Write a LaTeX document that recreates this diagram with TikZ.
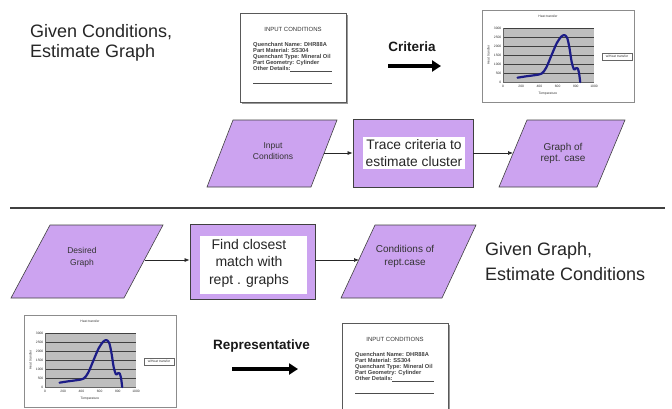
\documentclass[tikz,border=0pt]{standalone}
\usepackage{fontspec}
\setmainfont{Liberation Sans}
\usetikzlibrary{arrows.meta,calc}
\definecolor{lav}{RGB}{204,163,240}
\definecolor{curvecol}{RGB}{28,28,135}
\definecolor{plotgray}{RGB}{190,190,190}
\tikzset{
  ttl/.style={font=\fontsize{18}{19.5}\selectfont, align=left, inner sep=0pt, text=black!85},
  para/.style={fill=lav, draw=black!75, line width=0.6pt},
  plabel/.style={align=center, text=black!80, inner sep=0pt},
  procbox/.style={fill=lav, draw=black!75, line width=0.8pt, inner sep=0pt},
  whitebox/.style={fill=white, inner sep=0pt, align=center, text=black!85},
  flow/.style={-{Latex[length=5pt,width=4pt]}, line width=0.7pt, black!85},
  bigarrow/.style={-{Triangle[length=9pt,width=11pt]}, line width=3.6pt, black},
  arrowlabel/.style={font=\bfseries\fontsize{13.5}{15}\selectfont, inner sep=0pt, text=black!90},
  cardtitle/.style={font=\fontsize{6}{6}\selectfont, inner sep=0pt, text=black!80},
  cardtext/.style={font=\bfseries\fontsize{5.7}{6}\selectfont, inner sep=0pt, align=left, text=black!75},
  tick/.style={font=\fontsize{3.3}{3.6}\selectfont, inner sep=0pt, text=black!80},
  card/.pic={
    \fill[black!40] (1.8,1.8) rectangle (107.8,90.8);
    \draw[black!65, fill=white, line width=0.6pt] (0,0) rectangle (106,89);
    \node[cardtitle] (-title) at (53,16) {INPUT CONDITIONS};
    \node[cardtext, anchor=north west] (-body) at (13,29.5)
      {Quenchant Name: DHR88A\\Part Material: SS304\\Quenchant Type: Mineral Oil\\Part Geometry: Cylinder\\Other Details:};
    \draw[black!70, line width=0.4pt] (50,58) -- (92,58);
    \draw[black!70, line width=0.5pt] (13,70) -- (92,70);
  },
  chart/.pic={
    \draw[black!45, fill=white, line width=0.6pt] (0,0) rectangle (152,92);
    \fill[plotgray] (21,18) rectangle (112,72);
    \foreach \v in {500,1000,...,3000}
      \draw[black!75, line width=0.3pt] (21,{72-\v*0.018}) -- (112,{72-\v*0.018});
    \draw[black!60, line width=0.4pt] (21,18) -- (21,72) -- (112,72);
    \foreach \v in {0,500,...,3000}
      \node[tick, anchor=east] (-y\v) at (19.5,{72-\v*0.018}) {\v};
    \foreach \v in {0,200,...,1000}
      \node[tick] (-x\v) at ({21+\v*0.091},76.5) {\v};
    \node[tick] (-title) at (66,6) {Heat transfer};
    \node[tick, rotate=90] (-ylab) at (6.5,45) {Heat transfer};
    \node[tick] (-xlab) at (66,84) {Temperature};
    \node[tick, draw=black!60, fill=white, minimum width=30pt, minimum height=7pt] (-leg) at (135,46.5) {w/Heat transfer};
    \begin{scope}[shift={(21,72)}, x=0.091pt, y=0.018pt]
      \draw[curvecol, line width=2.2pt, line cap=round, line join=round]
        plot[smooth, tension=0.55] coordinates {(160,240) (260,320) (350,380) (425,470) (475,800) (530,1450) (590,2150) (640,2520) (675,2600) (705,2450) (730,1900) (755,1100) (780,700) (800,760) (820,760) (836,480) (848,0)};
    \end{scope}
  }
}
\begin{document}
\begin{tikzpicture}[x=1pt,y=-1pt]
\useasboundingbox (0,0) rectangle (672,408);
\clip (0,0) rectangle (672,408);
\fill[white] (0,0) rectangle (672,408);

% ---------- upper half ----------
\node[ttl, anchor=north west] (titleA) at (30,24.5) {Given Conditions,\\Estimate Graph};

\pic (cardA) at (240,13) {card};
\node[arrowlabel] (crit) at (412,46.5) {Criteria};
\coordinate (critS) at (388,66);
\coordinate (critE) at (441,66);
\draw[bigarrow] (critS) -- (critE);
\pic (chartA) at (482,10) {chart};

\path[para] (233,120) -- (337,120) -- (311,187) -- (207,187) -- cycle;
\node[plabel, font=\fontsize{8.5}{11}\selectfont] (inp) at (273,151.5) {Input\\Conditions};
\coordinate (inpR) at (324,153);

\node[procbox, minimum width=120pt, minimum height=68pt] (trace) at (413,153) {};
\node[whitebox, minimum width=102pt, minimum height=32pt, font=\fontsize{13.8}{16.5}\selectfont] (tracetxt) at (414,153) {Trace criteria to\\estimate cluster};

\path[para] (527,120) -- (625,120) -- (597,187) -- (499,187) -- cycle;
\node[plabel, font=\fontsize{10}{11}\selectfont] (graph) at (563,153) {Graph of\\rept. case};
\coordinate (graphL) at (513,153);

\draw[flow] (inpR) -- (trace);
\draw[flow] (trace) -- (graphL);

% ---------- separator ----------
\coordinate (sepL) at (10,208);
\coordinate (sepR) at (665,208);
\draw[black!75, line width=2.6pt] (sepL) -- (sepR);

% ---------- lower half ----------
\path[para] (50,225) -- (163,225) -- (124,298) -- (11,298) -- cycle;
\node[plabel, font=\fontsize{8.5}{12}\selectfont] (desired) at (82,257) {Desired\\Graph};
\coordinate (desR) at (145,260);

\node[procbox, minimum width=125pt, minimum height=75pt] (find) at (252.5,261.5) {};
\node[whitebox, minimum width=107pt, minimum height=58pt, font=\fontsize{14}{17.5}\selectfont] (findtxt) at (253.5,265) {};
\node[plabel, text=black!85, font=\fontsize{14}{17.5}\selectfont] (findlbl) at (249,263) {Find closest\\match with\\rept . graphs};

\path[para] (375,225) -- (476,225) -- (442,298) -- (341,298) -- cycle;
\node[plabel, font=\fontsize{10}{13}\selectfont] (cond) at (405,256) {Conditions of\\rept.case};
\coordinate (condL) at (359,260);

\draw[flow] (desR) -- (find.west |- desR);
\draw[flow] (find.east |- condL) -- (condL);

\node[ttl, anchor=north west, font=\fontsize{18}{25}\selectfont] (titleB) at (485,242.5) {Given Graph,\\Estimate Conditions};

\pic (chartB) at (24,315) {chart};
\node[arrowlabel] (repr) at (261.5,346.5) {Representative};
\coordinate (reprS) at (232,369);
\coordinate (reprE) at (298,369);
\draw[bigarrow] (reprS) -- (reprE);
\pic (cardB) at (342,323) {card};
\end{tikzpicture}
\end{document}
